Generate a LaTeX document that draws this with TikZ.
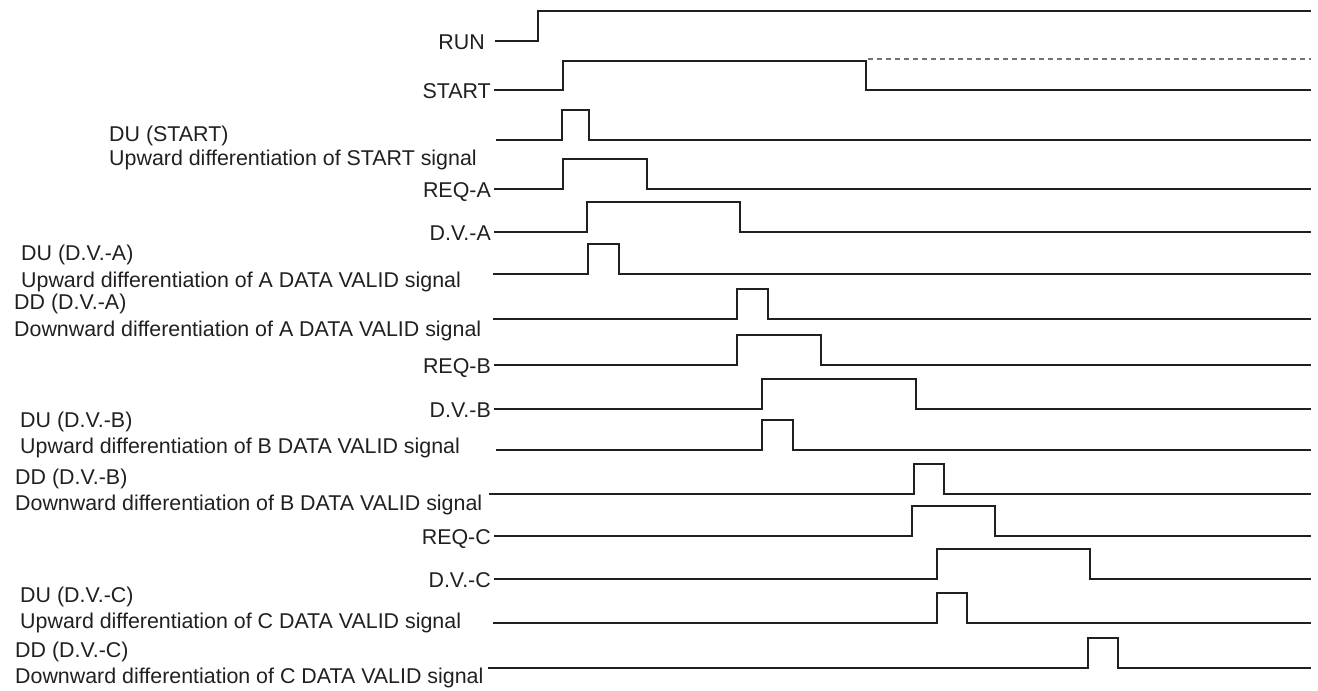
\documentclass[tikz,border=0pt]{standalone}
\usepackage{fontspec}
\setmainfont{Liberation Sans}
\definecolor{ink}{HTML}{231F20}

\begin{document}
\begin{tikzpicture}[x=1pt, y=-1pt,
    every node/.style={inner sep=0pt, text=ink, font=\fontsize{21.4}{25}\selectfont},
    sig/.style={anchor=base east},
    note/.style={anchor=base west},
    wave/.style={draw=ink, line width=2.5pt, line join=miter},
    hold/.style={draw=black!55, line width=1.6pt, dash pattern=on 5pt off 4pt}
]
\useasboundingbox (0,0) rectangle (1318,691);
% RUN and START
\node[sig] (run) at (485,49) {RUN};
\draw[wave] (495,41) -- (538,41) -- (538,11) -- (1311,11);
\node[sig] (start) at (491,98) {START};
\draw[wave] (494,90) -- (563,90) -- (563,61) -- (866,61) -- (866,90) -- (1311,90);
\draw[hold] (868,59) -- (1311,59);

% request and data valid signals
\foreach \nm/\txt/\ya/\xr/\xf in {reqa/REQ-A/189/563/647, dva/D.V.-A/232/587/740,
    reqb/REQ-B/365/737/821, dvb/D.V.-B/409/762/916,
    reqc/REQ-C/536/912/995, dvc/D.V.-C/579/937/1090}{
  \node[sig] (\nm) at (491,\ya+8) {\txt};
  \draw[wave] (494,\ya) -- (\xr,\ya) -- (\xr,\ya-30) -- (\xf,\ya-30) -- (\xf,\ya) -- (1311,\ya);
}

% differentiation pulses
\foreach \nm/\xa/\ya/\yb/\hd/\bd in {
    dustart/109/141/165/DU (START)/Upward differentiation of START signal,
    duA/21/260/287/DU (D.V.-A)/Upward differentiation of A DATA VALID signal,
    ddA/14/309/336/DD (D.V.-A)/Downward differentiation of A DATA VALID signal,
    duB/20/427/453/DU (D.V.-B)/Upward differentiation of B DATA VALID signal,
    ddB/15/484/510/DD (D.V.-B)/Downward differentiation of B DATA VALID signal,
    duC/20/602/628/DU (D.V.-C)/Upward differentiation of C DATA VALID signal,
    ddC/15/657/683/DD (D.V.-C)/Downward differentiation of C DATA VALID signal}{
  \node[note] (\nm) at (\xa,\ya) {\hd};
  \node[note] (\nm txt) at (\xa,\yb) {\bd};
}
\foreach \ya/\xs/\xr/\xf in {140/496/562/589, 274/493/588/619, 319/493/737/768,
    450/496/762/793, 494/489/914/944, 623/493/937/967, 668/488/1088/1118}
  \draw[wave] (\xs,\ya) -- (\xr,\ya) -- (\xr,\ya-30) -- (\xf,\ya-30) -- (\xf,\ya) -- (1311,\ya);
\end{tikzpicture}
\end{document}
